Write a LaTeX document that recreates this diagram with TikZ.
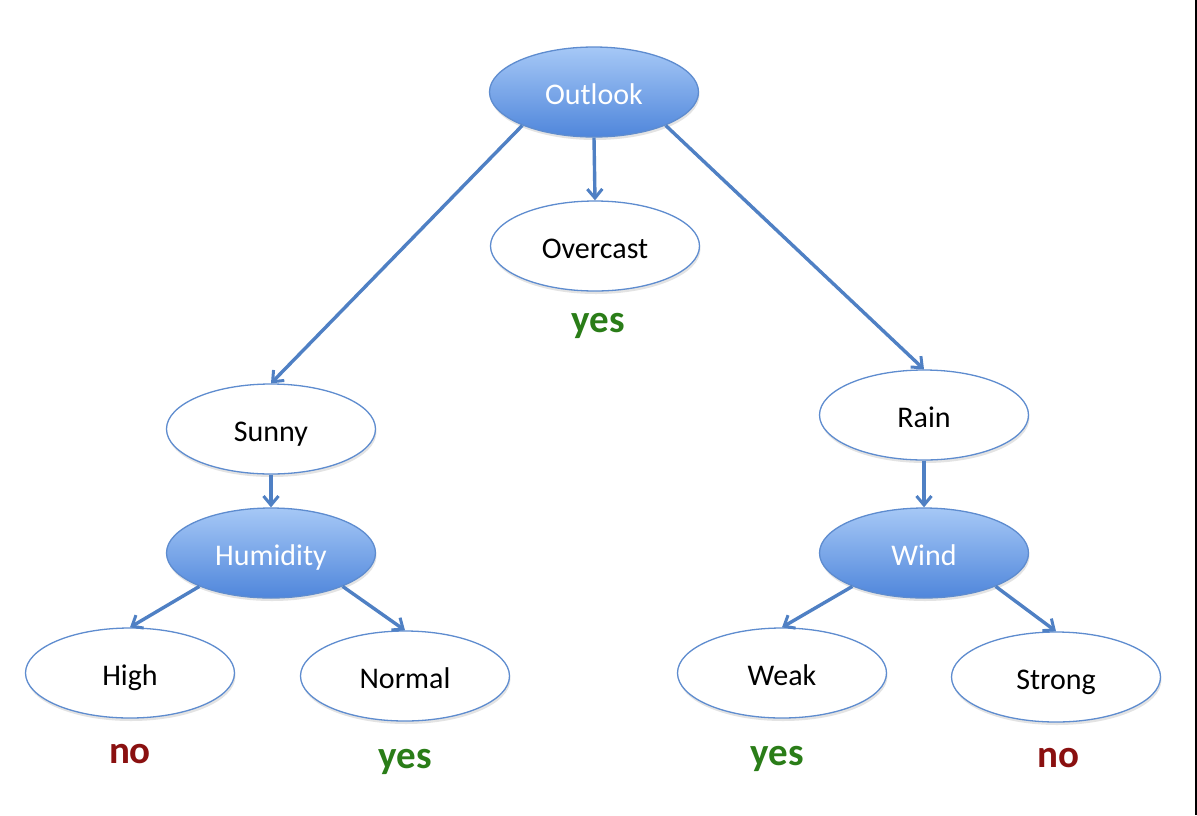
\documentclass[tikz,border=0pt]{standalone}
\usepackage{fontspec}
\setmainfont{Carlito}
\usetikzlibrary{shapes.geometric,arrows.meta,shadows}
\definecolor{edgeblue}{HTML}{4F80C4}
\definecolor{borderblue}{HTML}{5E8CCF}
\definecolor{topblue}{HTML}{A6C8F6}
\definecolor{botblue}{HTML}{4F86DB}
\definecolor{yesgreen}{HTML}{2A7D18}
\definecolor{nored}{HTML}{8A1010}
\tikzset{
  leaf/.style={ellipse, draw=borderblue, line width=1.3pt, fill=white,
    minimum width=209pt, minimum height=90pt, inner sep=0pt,
    text height=32pt, text depth=8pt,
    font=\fontsize{30}{34}\selectfont, text=black,
    drop shadow={opacity=0.22, shadow xshift=1pt, shadow yshift=-3pt}},
  attr/.style={leaf, top color=topblue, bottom color=botblue, text=white},
  conn/.style={draw=edgeblue, line width=3.4pt,
    -{Straight Barb[length=9pt, width=15pt, line width=3pt]}},
  yeslabel/.style={anchor=base, font=\fontsize{39}{42}\selectfont\bfseries, text=yesgreen},
  nolabel/.style={anchor=base, font=\fontsize{39}{42}\selectfont\bfseries, text=nored}
}
\begin{document}
\begin{tikzpicture}[x=1pt, y=-1pt]
\useasboundingbox (0,0) rectangle (1197,815);
\fill[white] (0,0) rectangle (1197,815);
\fill[black] (1194.5,0) rectangle (1197,815);

\node[attr] (outlook) at (594,92) {Outlook};
\node[leaf] (overcast) at (595,246) {Overcast};
\node[yeslabel] (yes1) at (598,332) {yes};

\node[leaf] (sunny) at (271,429) {Sunny};
\node[attr] (humidity) at (271,553) {Humidity};
\node[leaf] (high) at (130,673) {High};
\node[leaf] (normal) at (405,676) {Normal};
\node[nolabel] (no1) at (130,763) {no};
\node[yeslabel] (yes2) at (405,768) {yes};

\node[leaf] (rain) at (924,415) {Rain};
\node[attr] (wind) at (924,553) {Wind};
\node[leaf] (weak) at (782,673) {Weak};
\node[leaf] (strong) at (1056,677) {Strong};
\node[yeslabel] (yes3) at (777,765) {yes};
\node[nolabel] (no2) at (1058,767) {no};

\draw[conn] (outlook.205) -- (sunny.north);
\draw[conn] (outlook.south) -- (overcast.north);
\draw[conn] (outlook.335) -- (rain.north);
\draw[conn] (sunny.south) -- (humidity.north);
\draw[conn] (humidity.205) -- (high.north);
\draw[conn] (humidity.335) -- (normal.north);
\draw[conn] (rain.south) -- (wind.north);
\draw[conn] (wind.205) -- (weak.north);
\draw[conn] (wind.335) -- (strong.north);
\end{tikzpicture}
\end{document}
